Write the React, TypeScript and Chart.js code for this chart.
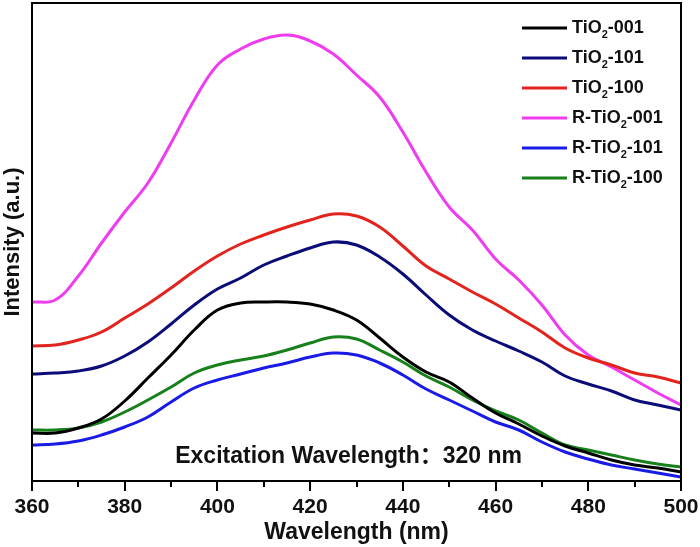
import React, { useEffect, useRef } from "react";
import { Chart, registerables } from "chart.js";

Chart.register(...registerables);

const WAVELENGTHS = [360, 365, 370, 375, 380, 385, 390, 395, 400, 405, 410, 415, 420, 425, 430, 435, 440, 445, 450, 455, 460, 465, 470, 475, 480, 485, 490, 495, 500];

const TIO2_001 = [48, 48, 53, 62, 80, 103, 126, 151, 171, 178, 179, 179, 177, 171, 161, 143, 124, 109, 99, 83, 68, 57, 45, 35, 28, 21, 16, 13, 9];
const TIO2_101 = [107, 108, 110, 115, 125, 139, 157, 176, 192, 203, 216, 225, 233, 239, 236, 224, 207, 186, 166, 151, 140, 130, 119, 105, 97, 90, 81, 76, 71];
const TIO2_100 = [135, 136, 141, 149, 163, 177, 193, 210, 225, 237, 246, 254, 261, 267, 265, 254, 235, 215, 202, 189, 177, 163, 149, 133, 123, 116, 108, 104, 98];
const R_TIO2_001 = [179, 181, 205, 238, 269, 298, 338, 381, 416, 432, 442, 446, 440, 427, 406, 384, 349, 309, 274, 251, 222, 201, 176, 146, 126, 114, 101, 88, 76];
const R_TIO2_101 = [36, 37, 40, 46, 54, 64, 79, 93, 101, 107, 113, 118, 124, 128, 126, 118, 106, 92, 81, 70, 59, 51, 39, 29, 22, 16, 12, 8, 4];
const R_TIO2_100 = [51, 51, 53, 59, 69, 81, 94, 108, 116, 121, 125, 131, 138, 144, 142, 131, 119, 105, 94, 81, 70, 61, 48, 36, 31, 26, 21, 17, 14];

const SERIES_LABELS = ["TiO₂-001", "TiO₂-101", "TiO₂-100", "R-TiO₂-001", "R-TiO₂-101", "R-TiO₂-100"];
const SERIES_VALUES = [TIO2_001, TIO2_101, TIO2_100, R_TIO2_001, R_TIO2_101, R_TIO2_100];
const SERIES_COLORS = ["#000000", "#0c0c78", "#e3231d", "#f03cf0", "#1a1ae6", "#17801a"];

const X_MIN = 360;
const X_MAX = 500;
const X_LABEL_TICKS = [360, 380, 400, 420, 440, 460, 480, 500];
const X_MINOR_TICKS = [370, 390, 410, 430, 450, 470, 490];

const ANNOTATION = "Excitation Wavelength：320 nm";
const X_TITLE = "Wavelength (nm)";
const Y_TITLE = "Intensity (a.u.)";

const FONT = "Arial, 'Liberation Sans', 'Noto Sans CJK SC', sans-serif";

const decorPlugin = {
  id: "decor",
  afterDatasetsDraw(chart: any) {
    const ctx = chart.ctx;
    const a = chart.chartArea;
    const xs = chart.scales.x;
    ctx.save();
    // frame
    ctx.strokeStyle = "#000";
    ctx.lineWidth = 2;
    ctx.strokeRect(a.left, a.top, a.right - a.left, a.bottom - a.top);
    // ticks
    X_LABEL_TICKS.forEach((v) => {
      const px = Math.round(xs.getPixelForValue(v));
      ctx.beginPath();
      ctx.moveTo(px, a.bottom);
      ctx.lineTo(px, a.bottom + 10);
      ctx.stroke();
    });
    X_MINOR_TICKS.forEach((v) => {
      const px = Math.round(xs.getPixelForValue(v));
      ctx.beginPath();
      ctx.moveTo(px, a.bottom);
      ctx.lineTo(px, a.bottom + 6);
      ctx.stroke();
    });
    // annotation
    ctx.fillStyle = "#111";
    ctx.font = "bold 23px " + FONT;
    ctx.textAlign = "center";
    ctx.textBaseline = "middle";
    ctx.fillText(ANNOTATION, xs.getPixelForValue(428.3), a.bottom - 24);
    // legend
    ctx.textAlign = "left";
    chart.data.datasets.forEach((ds: any, i: number) => {
      const y = a.top + 25 + 30 * i;
      ctx.strokeStyle = ds.borderColor;
      ctx.lineWidth = 3;
      ctx.beginPath();
      ctx.moveTo(522, y);
      ctx.lineTo(567, y);
      ctx.stroke();
      const parts = String(ds.label).split("₂");
      let x = 572;
      ctx.fillStyle = "#111";
      parts.forEach((p: string, j: number) => {
        ctx.font = "bold 18px " + FONT;
        ctx.textBaseline = "middle";
        ctx.fillText(p, x, y);
        x += ctx.measureText(p).width;
        if (j < parts.length - 1) {
          ctx.font = "bold 11px " + FONT;
          ctx.fillText("2", x, y + 7);
          x += ctx.measureText("2").width;
        }
      });
    });
    ctx.restore();
  },
};

export default function App() {
  const ref = useRef<HTMLCanvasElement | null>(null);
  useEffect(() => {
    if (!ref.current) return;
    const chart = new Chart(ref.current, {
      type: "line",
      data: {
        datasets: SERIES_VALUES.map((vals, i) => ({
          label: SERIES_LABELS[i],
          data: vals.map((v, k) => ({ x: WAVELENGTHS[k], y: v })),
          borderColor: SERIES_COLORS[i],
          backgroundColor: SERIES_COLORS[i],
          borderWidth: 3,
          pointRadius: 0,
          tension: 0.4,
          fill: false,
        })),
      },
      options: {
        animation: false,
        responsive: false,
        events: [],
        layout: { padding: { top: 3, right: 19, left: 0, bottom: 0 } },
        plugins: { legend: { display: false }, tooltip: { enabled: false } },
        scales: {
          x: {
            type: "linear",
            min: X_MIN,
            max: X_MAX,
            afterFit: (s: any) => {
              s.height = 66;
              s.paddingLeft = 0;
              s.paddingRight = 0;
            },
            afterBuildTicks: (s: any) => {
              s.ticks = X_LABEL_TICKS.map((v) => ({ value: v }));
            },
            grid: { display: false, drawTicks: false },
            border: { display: false },
            ticks: {
              padding: 14,
              color: "#111",
              maxRotation: 0,
              autoSkip: false,
              font: { family: FONT, size: 21, weight: "bold" },
            },
            title: {
              display: true,
              text: X_TITLE,
              color: "#111",
              padding: { top: 0, bottom: 1 },
              font: { family: FONT, size: 23, weight: "bold" },
            },
          },
          y: {
            type: "linear",
            min: 0,
            max: 478,
            afterFit: (s: any) => {
              s.width = 32;
              s.paddingTop = 0;
              s.paddingBottom = 0;
            },
            grid: { display: false, drawTicks: false },
            border: { display: false },
            ticks: { display: false },
            title: {
              display: true,
              text: Y_TITLE,
              color: "#111",
              padding: { top: 0, bottom: 0 },
              font: { family: FONT, size: 22, weight: "bold" },
            },
          },
        },
      },
      plugins: [decorPlugin],
    } as any);
    return () => chart.destroy();
  }, []);
  return (
    <div style={{ position: "absolute", left: 0, top: 0, width: 700, height: 547, background: "#fff" }}>
      <canvas ref={ref} width={700} height={547} style={{ display: "block" }} />
    </div>
  );
}
